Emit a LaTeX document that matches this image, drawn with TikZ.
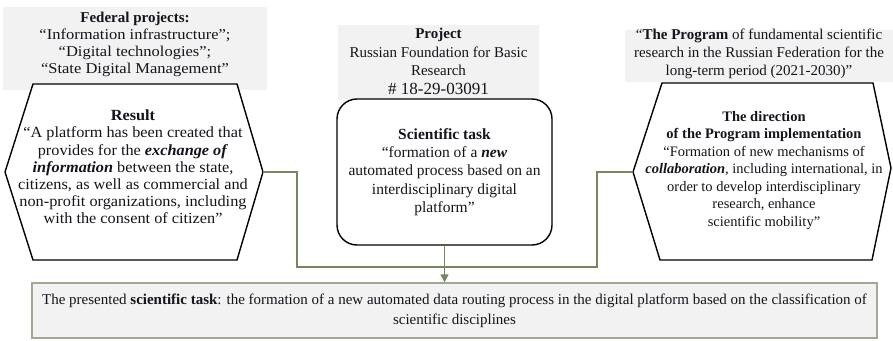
\documentclass[tikz,border=0pt]{standalone}
\usepackage{fontspec}
\setmainfont{Liberation Serif}
\newfontfamily\widefont[FakeStretch=1.05]{Liberation Serif}
\newfontfamily\xwidefont[FakeStretch=1.1]{Liberation Serif}
\usetikzlibrary{arrows.meta}

\definecolor{panelgrey}{RGB}{242,242,242}
\definecolor{linkgreen}{RGB}{118,135,95}
\definecolor{outborder}{RGB}{160,170,145}
\definecolor{inkdark}{RGB}{20,20,28}

\tikzset{
  bgpanel/.style={fill=panelgrey, draw=none, inner sep=0pt},
  txt/.style={align=center, inner sep=0pt, text=inkdark},
  hexline/.style={draw=black, line width=1.4pt, fill=white, line join=miter},
  taskbox/.style={draw=black, line width=1.4pt, fill=white, rounded corners=20pt,
    minimum width=215pt, minimum height=146pt, inner sep=0pt},
  outbox/.style={draw=outborder, line width=1.4pt, fill=panelgrey,
    minimum width=845pt, minimum height=55pt, inner sep=0pt},
  link/.style={draw=linkgreen, line width=1.3pt},
  linkarrow/.style={link, -{Triangle[width=8pt,length=8pt]}, linkgreen},
}

\begin{document}
\begin{tikzpicture}[x=1pt, y=-1pt]
  \useasboundingbox (0,0) rectangle (893,340);

  % grey source panels
  \node[bgpanel, minimum width=264pt, minimum height=83pt] (fedbox) at (135,48.5) {};
  \node[bgpanel, minimum width=201pt, minimum height=75pt] (projbox) at (438.5,62.5) {};
  \node[bgpanel, minimum width=268pt, minimum height=52pt] (progbox) at (759,56) {};

  \node[txt, font=\fontsize{15}{17}\selectfont] (fedtext) at (135,44.5)
    {\textbf{Federal projects:}\\
     {\xwidefont “Information infrastructure”;}\\
     {\xwidefont “Digital technologies”;}\\
     {\xwidefont “State Digital Management”}};
  \node[txt, font=\fontsize{15}{18.5}\selectfont] (projtext) at (438.5,61.5)
    {\textbf{Project}\\
     Russian Foundation for Basic\\
     Research\\
     {\fontsize{17}{19}\selectfont \# 18-29-03091}};
  \node[txt, font=\fontsize{15}{18}\selectfont] (progtext) at (759,53.5)
    {“\textbf{The Program} of fundamental scientific\\
     research in the Russian Federation for the\\
     long-term period (2021-2030)”};

  % left hexagon: result
  \draw[hexline] (33,84) -- (237,84) -- (263,172) -- (237,260) -- (33,260) -- (5,172) -- cycle;
  \coordinate (resR) at (263,172);
  \node[txt, font=\widefont\fontsize{15.5}{17.2}\selectfont] (restext) at (133,167)
    {\textbf{Result}\\
     “A platform has been created that\\
     provides for the \textbf{\textit{exchange of}}\\
     \textbf{\textit{information}} between the state,\\
     citizens, as well as commercial and\\
     non-profit organizations, including\\
     with the consent of citizen”};

  % right hexagon: programme direction
  \draw[hexline] (662,83) -- (873,83) -- (891,168) -- (872,260) -- (660,260) -- (633,172) -- cycle;
  \coordinate (dirL) at (633,172);
  \node[txt, font=\fontsize{14.5}{17.5}\selectfont] (dirtext) at (764,170.5)
    {\textbf{The direction}\\
     \textbf{of the Program implementation}\\
     “Formation of new mechanisms of\\
     \textbf{\textit{collaboration}}, including international, in\\
     order to develop interdisciplinary\\
     research, enhance\\
     scientific mobility”};

  % central rounded box: scientific task
  \node[taskbox, txt, font=\fontsize{15.5}{18.25}\selectfont] (task) at (444.5,172)
    {\textbf{Scientific task}\\
     “formation of a \textbf{\textit{new}}\\
     automated process based on an\\
     interdisciplinary digital\\
     platform”};

  % outcome box
  \node[outbox, txt, font=\fontsize{15}{20}\selectfont] (out) at (454.5,310.5)
    {The presented \textbf{scientific task}: the formation of a new automated data routing process in the digital platform based on the classification of\\
     scientific disciplines};

  % connectors
  \coordinate (busL) at (297,267);
  \coordinate (busR) at (597,267);
  \draw[link] (resR) -| (busL) -- (busR) |- (dirL);
  \draw[linkarrow] (task.south) -- (task.south |- out.north);
\end{tikzpicture}
\end{document}
